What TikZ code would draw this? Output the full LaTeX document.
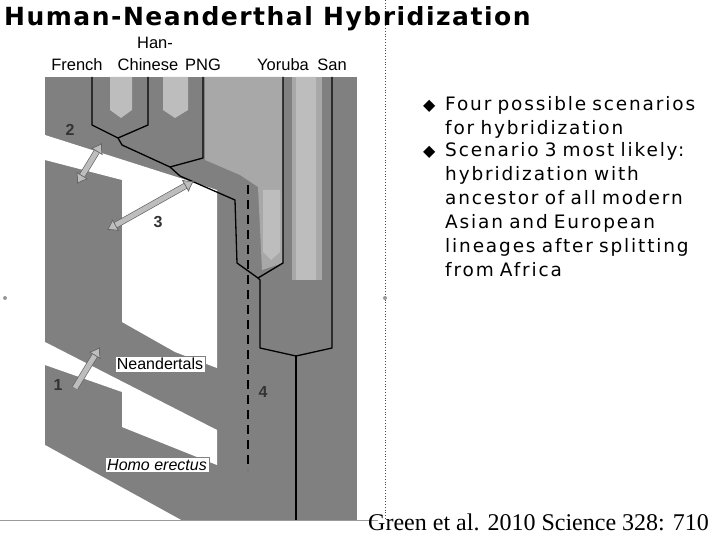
\documentclass[tikz,border=0pt]{standalone}
\usepackage{fontspec}
\setmainfont{DejaVu Sans}
\newfontfamily\comicf[LetterSpace=10]{DejaVu Sans}
\newfontfamily\titlef[LetterSpace=6]{DejaVu Sans}
\newfontfamily\arialf{Liberation Sans}
\newfontfamily\timesf{Liberation Serif}
\usetikzlibrary{arrows.meta}
\definecolor{midg}{HTML}{808080}
\definecolor{lightg}{HTML}{A8A8A8}
\definecolor{lighter}{HTML}{BDBDBD}
\tikzset{
  lin/.style={black,line width=1.3pt,line join=round},
  lab/.style={font=\arialf\fontsize{16.5}{16.5}\selectfont,inner sep=0pt},
  num/.style={font=\arialf\bfseries\fontsize{16}{16}\selectfont,text=black!80,inner sep=0pt},
  dbl/.style={double=lighter,double distance=5pt,line width=0.7pt,draw=black!60,{Latex[open,fill=lighter,length=10pt,width=14pt]}-{Latex[open,fill=lighter,length=10pt,width=14pt]}},
  sgl/.style={double=lighter,double distance=5pt,line width=0.7pt,draw=black!60,-{Latex[open,fill=lighter,length=10pt,width=14pt]}},
  boxl/.style={draw=black!50,fill=white,font=\arialf\fontsize{16}{16}\selectfont,inner sep=2pt},
  txt/.style={font=\comicf\fontsize{18.5}{24}\selectfont,anchor=north west,align=left,inner sep=0pt,text width=300pt}
}
\begin{document}
\begin{tikzpicture}[x=1pt,y=-1pt]
\useasboundingbox (0,0) rectangle (720,540);
\fill[white] (0,0) rectangle (720,540);
% panel
\fill[midg] (45,77) rectangle (357,520);
\fill[lightg] (205,77) -- (283,77) -- (283,263) -- (262,270) -- (258,187) -- (240,175) -- (205,160) -- cycle;
\fill[lightg] (290,77) rectangle (322,520);
\fill[midg] (283,77) rectangle (292,520);
\fill[lighter] (110,77) -- (132,77) -- (132,110) -- (121,118) -- (110,110) -- cycle;
\fill[lighter] (163,77) -- (188,77) -- (188,110) -- (175,118) -- (163,110) -- cycle;
\fill[lighter] (263,190) -- (280,190) -- (280,252) -- (271,260) -- (263,252) -- cycle;
\fill[lighter] (296,77) -- (316,77) -- (316,322) -- (306,332) -- (296,322) -- cycle;
\fill[midg] (260,280) -- (332,280) -- (332,520) -- (260,520) -- cycle;
\fill[midg] (322,77) rectangle (357,520);
% white holes
\fill[white] (45,135) -- (180,178) -- (217,190) -- (217,368) -- (175,352) -- (122,322) -- (122,180) -- (45,160) -- cycle;
\fill[white] (45,342) -- (217,430) -- (217,465) -- (122,427) -- (122,392) -- (45,365) -- cycle;
\fill[white] (45,445) -- (183,521) -- (45,521) -- cycle;
% lineage lines
\draw[lin] (92,77) -- (92,125) -- (118,138) -- (148,125) -- (148,77);
\draw[lin] (118,138) -- (122,145) -- (170,167) -- (203,158) -- (203,77);
\draw[lin] (170,167) -- (180,176) -- (235,200) -- (237,263) -- (258,278) -- (283,263) -- (283,77);
\draw[lin] (258,278) -- (260,280) -- (260,348) -- (296,356) -- (332,348) -- (332,77);
\draw[lin] (296,356) -- (296,520);
\draw[line width=1.8pt,dash pattern=on 9pt off 6pt] (248,185) -- (248,470);
% arrows
\draw[dbl] (77,184) -- (102,143);
\draw[dbl] (107,230) -- (194,181);
\draw[sgl] (75,388) -- (100,347);
\node[num] (n2) at (70,130) {2};
\node[num] (n3) at (158,222) {3};
\node[num] (n1) at (58,385) {1};
\node[num] (n4) at (263,392) {4};
\node[boxl] (ne) at (160,364) {Neandertals};
\node[boxl] (he) at (157,465) {\itshape Homo erectus};
% top labels
\node[lab] (han) at (155,43) {Han-};
\node[lab] (fr) at (77,65) {French};
\node[lab] (ch) at (148,65) {Chinese};
\node[lab] (png) at (203,65) {PNG};
\node[lab] (yo) at (283,65) {Yoruba};
\node[lab] (san) at (332,65) {San};
% frame lines
\draw[black!70,dotted,line width=0.8pt] (385,0) -- (385,520);
\draw[black!40,line width=0.8pt] (0,520) -- (378,520);
\fill[black!40] (5,298) circle (2pt);
\fill[black!40] (385,298) circle (2pt);
% title
\node[anchor=west,font=\titlef\bfseries\fontsize{25}{25}\selectfont,inner sep=0pt] (title) at (4,19) {Human-Neanderthal Hybridization};
% bullets
\node[txt] (b1) at (423,96) {\makebox[22pt][l]{\fontsize{16}{16}\selectfont◆}Four possible scenarios\\\hspace*{22pt}for hybridization};
\node[txt] (b2) at (423,142) {\makebox[22pt][l]{\fontsize{16}{16}\selectfont◆}Scenario 3 most likely:\\\hspace*{22pt}hybridization with\\\hspace*{22pt}ancestor of all modern\\\hspace*{22pt}Asian and European\\\hspace*{22pt}lineages after splitting\\\hspace*{22pt}from Africa};
\node[anchor=east,font=\timesf\fontsize{24}{24}\selectfont,inner sep=0pt] (cite) at (709,522) {Green et al. 2010 Science 328: 710};
\end{tikzpicture}
\end{document}
